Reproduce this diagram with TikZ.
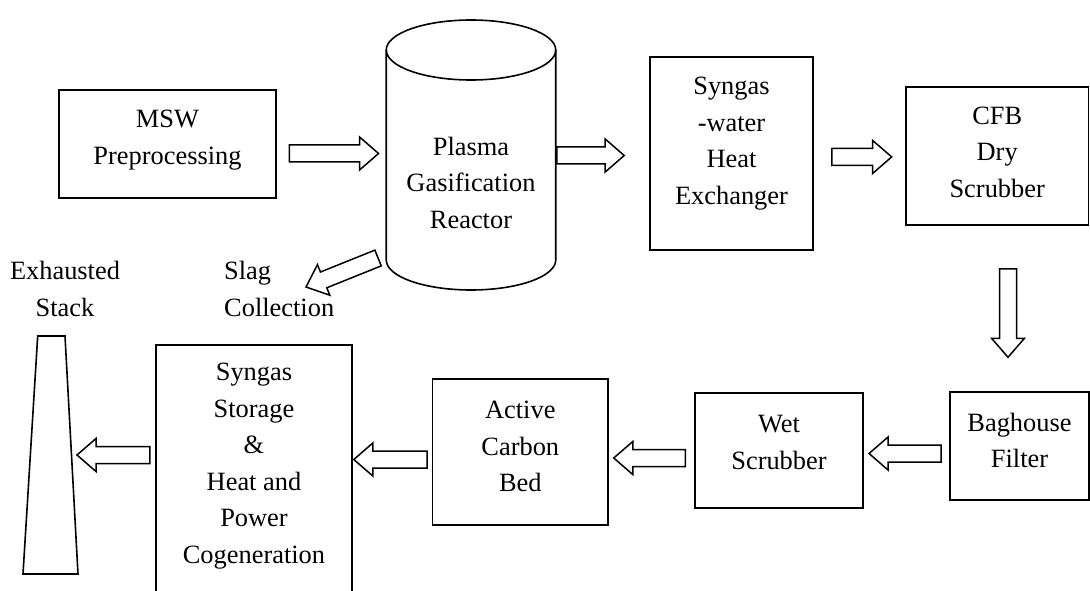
\documentclass[tikz,border=0pt]{standalone}
\usepackage{fontspec}
\setmainfont{Liberation Serif}
\usetikzlibrary{calc}

\tikzset{
  unit/.style={draw, line width=1.6pt, inner sep=0pt},
  txt/.style={align=center, inner sep=0pt},
  flowline/.style={draw, line width=1.5pt, line join=miter},
}

% hollow block arrow from tail #1 to tip #2
\newcommand{\flowarrow}[2]{%
  \coordinate (ft) at #1;
  \coordinate (fp) at #2;
  \coordinate (fh) at ($(fp)!19pt!(ft)$);
  \draw[flowline] ($(ft)!8.5pt!90:(fp)$) -- ($(fh)!8.5pt!90:(fp)$)
    -- ($(fh)!16.5pt!90:(fp)$) -- (fp) -- ($(fh)!16.5pt!-90:(fp)$)
    -- ($(fh)!8.5pt!-90:(fp)$) -- ($(ft)!8.5pt!-90:(fp)$) -- cycle;
}

\begin{document}
\begin{tikzpicture}[x=1pt, y=-1pt, font=\fontsize{26.4pt}{36.5pt}\selectfont]
\useasboundingbox (0,0) rectangle (1090,591);

% top row
\node[unit, minimum width=217pt, minimum height=108pt] (msw) at (167.5,144) {};
\node[txt] (msw-txt) at ($(msw)+(0,-4)$) {MSW\\Preprocessing};
\node[txt, minimum width=169.5pt] (reactor) at (471,182.5) {Plasma\\Gasification\\Reactor};
\draw[line width=1.6pt] (471,50) ellipse [x radius=84.75, y radius=30];
\draw[line width=1.6pt] (386.25,50) -- (386.25,260)
  arc[start angle=180, end angle=0, x radius=84.75, y radius=30] -- (555.75,50);
\node[unit, minimum width=163pt, minimum height=193pt] (exch) at (731.5,153.5) {};
\node[txt] (exch-txt) at ($(exch)+(0,-10)$) {Syngas\\-water\\Heat\\Exchanger};
\node[unit, minimum width=182.5pt, minimum height=138.3pt] (cfb) at (997.2,155.9) {};
\node[txt] (cfb-txt) at ($(cfb)+(0,-4)$) {CFB\\Dry\\Scrubber};

% bottom row
\node[unit, minimum width=139pt, minimum height=108.5pt] (bag) at (1019.5,446) {};
\node[txt] (bag-txt) at ($(bag)+(0,-5.5)$) {Baghouse\\Filter};
\node[unit, minimum width=168.5pt, minimum height=115pt] (wet) at (779,450.5) {};
\node[txt] (wet-txt) at ($(wet)+(0,-8)$) {Wet\\Scrubber};
\node[unit, minimum width=175.3pt, minimum height=146pt] (active) at (520.3,452) {};
\node[txt] (active-txt) at ($(active)+(0,-5.5)$) {Active\\Carbon\\Bed};
\node[unit, minimum width=196pt, minimum height=250pt] (storage) at (254,470) {};
\node[txt] (storage-txt) at ($(storage)+(0,-4)$) {Syngas\\Storage\\\&\\Heat and\\Power\\Cogeneration};

% stack
\draw[line width=1.6pt] (37.7,336) -- (65,336) -- (78,574) -- (23,574) -- cycle;
\coordinate (stack) at (71,455);
\node[txt] (exhausted) at (65,289) {Exhausted\\Stack};
\node[align=left, anchor=west, inner sep=0pt] (slag) at (224,289) {Slag\\Collection};

% flow
\flowarrow{($(msw.east)+(12.5,9.5)$)}{($(reactor.west)+(-7.5,-29)$)}
\flowarrow{($(reactor.east)+(1,-27)$)}{($(exch.west)+(-25,2)$)}
\flowarrow{($(exch.east)+(18,3.5)$)}{($(cfb.west)+(-13.5,1)$)}
\flowarrow{($(cfb.south)+(10.8,43)$)}{($(bag.north)+(-11.5,-33.7)$)}
\flowarrow{($(bag.west)+(-8,7.5)$)}{($(wet.east)+(5,3)$)}
\flowarrow{($(wet.west)+(-8.5,7.5)$)}{($(active.east)+(5,6)$)}
\flowarrow{($(active.west)+(-4.7,7.5)$)}{($(storage.east)+(1,-10.5)$)}
\flowarrow{($(storage.west)+(-5.4,-15)$)}{($(stack)+(6,0)$)}
\flowarrow{($(reactor.west)+(-8,75.5)$)}{($(slag.west)+(82,-2)$)}
\end{tikzpicture}
\end{document}
